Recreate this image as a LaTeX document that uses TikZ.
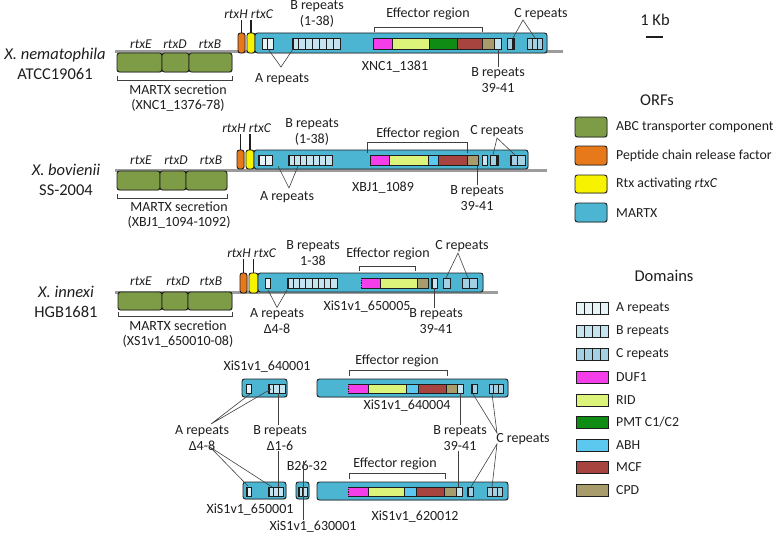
\documentclass[tikz,border=0pt]{standalone}
\usepackage{fontspec}
\setmainfont{Carlito}
\usetikzlibrary{fit,shadows}
\definecolor{abc}{HTML}{7E9B46}
\definecolor{orf}{HTML}{E8791B}
\definecolor{ylw}{HTML}{F7F200}
\definecolor{martx}{HTML}{4CB6D2}
\definecolor{arep}{HTML}{E6F4F8}
\definecolor{brep}{HTML}{C6E4F0}
\definecolor{crep}{HTML}{A4D0E3}
\definecolor{duf}{HTML}{F43EEA}
\definecolor{rid}{HTML}{DCF47A}
\definecolor{pmt}{HTML}{0F8C14}
\definecolor{abh}{HTML}{5CC7EF}
\definecolor{mcf}{HTML}{A8443F}
\definecolor{cpd}{HTML}{A99C6C}
\definecolor{chrom}{HTML}{9C9C9C}
\definecolor{ink}{HTML}{1E1E1E}
\newcommand\mkdom[5]{\draw[dom, fill=#5] (#1,#3) rectangle (#2,#4);}
\newcommand\mkreps[6]{\pgfmathsetmacro\cw{(#2-#1)/#5}\foreach \k in {1,...,#5}{\draw[dom, fill=#6] ({#1+(\k-1)*\cw},#3) rectangle ({#1+\k*\cw},#4);}}
\newcommand\mkdark[3]{\fill[ink] (#1,#2) rectangle ({#1+1.8},#3);}
\begin{document}
\begin{tikzpicture}[x=1pt,y=-1pt,
  gene/.style={draw=ink, line width=0.9pt, rounded corners=2.5pt, inner sep=0pt, outer sep=0pt,
     drop shadow={shadow xshift=0.8pt, shadow yshift=-0.9pt, opacity=0.3}},
  dom/.style={draw=ink, line width=0.75pt},
  chromline/.style={draw=chrom, line width=3pt},
  lbl/.style={font=\fontsize{14}{15.5}\selectfont, text=ink, inner sep=1pt, align=center},
  rl/.style={font=\fontsize{13.5}{15}\selectfont\itshape, text=ink, inner sep=1pt},
  sp/.style={font=\fontsize{16.5}{20}\selectfont, text=ink, align=center, inner sep=1pt},
  lg/.style={font=\fontsize{13.8}{15}\selectfont, text=ink, anchor=west, inner sep=1pt},
  ttl/.style={font=\fontsize{16.5}{18}\selectfont, text=ink, inner sep=1pt},
  conn/.style={draw=ink!85, line width=0.6pt},
  tick/.style={draw=ink, line width=1.2pt},
  brk/.style={draw=ink!85, line width=0.7pt}]
\useasboundingbox (0,0) rectangle (778,535);

% ================= Row 1: X. nematophila =================
\node[sp] (sp1) at (55,64) {\textit{X. nematophila}\\ATCC19061};
\draw[chromline] (115,52) -- (563,52);
\node[gene, fill=abc, fit={(117,53) (162,72)}] (e1) {};
\node[gene, fill=abc, fit={(162,53) (189,72)}] (d1) {};
\node[gene, fill=abc, fit={(189,53) (232,72)}] (b1) {};
\node[rl] (le1) at (141,44) {rtxE};
\node[rl] (ld1) at (175,44) {rtxD};
\node[rl] (lb1) at (210,44) {rtxB};
\draw[brk] (117,76) -- (117,80) -- (232,80) -- (232,76);
\node[lbl] (ms1) at (178,98) {MARTX secretion\\(XNC1\_1376-78)};
\node[gene, fill=orf, fit={(238,33) (245,53)}] (h1) {};
\node[gene, fill=ylw, fit={(247,33) (255,53)}] (c1) {};
\node[gene, fill=martx, fit={(255,33) (547,53)}] (m1) {};
\node[rl] (lh1) at (236,14) {rtxH};
\node[rl] (lc1) at (262,14) {rtxC};
\draw[tick] (h1.north) -- (h1.north |- lh1.south);
\draw[tick] (c1.north) -- (c1.north |- lc1.south);
\mkreps{262}{273}{38}{49}{2}{arep}
\mkreps{292}{340}{38}{49}{7}{brep}\mkdark{292}{38}{49}
\mkdom{373}{392}{38}{49}{duf}
\mkdom{392}{429}{38}{49}{rid}
\mkdom{429}{457}{38}{49}{pmt}
\mkdom{457}{482}{38}{49}{mcf}
\mkdom{482}{494}{38}{49}{cpd}
\mkreps{494}{501}{38}{49}{1}{brep}
\mkreps{507}{514}{38}{49}{1}{crep}\mkdark{512.2}{38}{49}
\mkreps{527}{542}{38}{49}{3}{crep}
\node[lbl] (br1) at (317,14) {B repeats\\(1-38)};
\node[lbl] (ef1) at (428,14) {Effector region};
\draw[brk] (374,32) -- (374,27) -- (482,27) -- (482,32);
\node[lbl] (ar1) at (282,79) {A repeats};
\coordinate (ar1x) at (281,67);
\coordinate (ar1a) at (268,49);
\coordinate (ar1b) at (293,49);
\draw[conn] (ar1a) -- (ar1x) -- (ar1b);
\node[lbl] (id1) at (395,67) {XNC1\_1381};
\node[lbl] (bb1) at (498,80) {B repeats\\39-41};
\coordinate (bb1a) at (498,49);
\draw[conn] (bb1a) -- (bb1.north);
\node[lbl] (cr1) at (541,14) {C repeats};
\coordinate (cr1x) at (523,20);
\coordinate (cr1a) at (513,38);
\coordinate (cr1b) at (535,38);
\draw[conn] (cr1a) -- (cr1x) -- (cr1b);

% scale bar
\node[ttl] (kb) at (655,20) {1 Kb};
\coordinate (kba) at (646,37);
\coordinate (kbb) at (663,37);
\draw[line width=1.6pt, ink] (kba) -- (kbb);

% ================= Row 2: X. bovienii =================
\node[sp] (sp2) at (66,180) {\textit{X. bovienii}\\SS-2004};
\draw[chromline] (115,170) -- (547,170);
\node[gene, fill=abc, fit={(117,171) (160,190)}] (e2) {};
\node[gene, fill=abc, fit={(160,171) (186,190)}] (d2) {};
\node[gene, fill=abc, fit={(186,171) (227,190)}] (b2) {};
\node[rl] (le2) at (141,160) {rtxE};
\node[rl] (ld2) at (176,160) {rtxD};
\node[rl] (lb2) at (211,160) {rtxB};
\draw[brk] (117,194) -- (117,198) -- (227,198) -- (227,194);
\node[lbl] (ms2) at (179,215) {MARTX secretion\\(XBJ1\_1094-1092)};
\node[gene, fill=orf, fit={(237,150) (244,169)}] (h2) {};
\node[gene, fill=ylw, fit={(246,150) (254,169)}] (c2) {};
\node[gene, fill=martx, fit={(254,150) (528,169)}] (m2) {};
\node[rl] (lh2) at (234,128) {rtxH};
\node[rl] (lc2) at (260,128) {rtxC};
\draw[tick] (h2.north) -- (h2.north |- lh2.south);
\draw[tick] (c2.north) -- (c2.north |- lc2.south);
\mkreps{258}{272}{155}{165}{2}{arep}\mkdark{258}{155}{165}
\mkreps{288}{332}{155}{165}{7}{brep}\mkdark{288}{155}{165}
\mkdom{370}{389}{155}{165}{duf}
\mkdom{389}{428}{155}{165}{rid}
\mkdom{428}{438}{155}{165}{abh}
\mkdom{438}{467}{155}{165}{mcf}
\mkdom{467}{478}{155}{165}{cpd}
\mkreps{482}{487}{155}{165}{1}{brep}
\mkreps{490}{498}{155}{165}{1}{crep}\mkdark{496.2}{155}{165}
\mkreps{510}{525}{155}{165}{2}{crep}\mkdark{510}{155}{165}
\node[lbl] (br2) at (312,132) {B repeats\\(1-38)};
\node[lbl] (ef2) at (418,134) {Effector region};
\draw[brk] (367,153) -- (367,142) -- (467,142) -- (467,153);
\node[lbl] (ar2) at (287,197) {A repeats};
\coordinate (ar2x) at (289,188);
\coordinate (ar2a) at (278,166);
\coordinate (ar2b) at (298,166);
\draw[conn] (ar2a) -- (ar2x) -- (ar2b);
\node[lbl] (id2) at (383,188) {XBJ1\_1089};
\node[lbl] (bb2) at (477,198) {B repeats\\39-41};
\coordinate (bb2a) at (477,166);
\draw[conn] (bb2a) -- (bb2.north);
\node[lbl] (cr2) at (497,131) {C repeats};
\coordinate (cr2x) at (497,138);
\coordinate (cr2a) at (493,155);
\coordinate (cr2b) at (515,155);
\draw[conn] (cr2a) -- (cr2x) -- (cr2b);

% ================= Row 3: X. innexi =================
\node[sp] (sp3) at (66,302) {\textit{X. innexi}\\HGB1681};
\draw[chromline] (115,292) -- (498,292);
\node[gene, fill=abc, fit={(118,292) (162,310)}] (e3) {};
\node[gene, fill=abc, fit={(162,292) (188,310)}] (d3) {};
\node[gene, fill=abc, fit={(188,292) (232,310)}] (b3) {};
\node[rl] (le3) at (141,281) {rtxE};
\node[rl] (ld3) at (178,281) {rtxD};
\node[rl] (lb3) at (211,281) {rtxB};
\draw[brk] (118,312) -- (118,316) -- (232,316) -- (232,312);
\node[lbl] (ms3) at (178,334) {MARTX secretion\\(XS1v1\_650010-08)};
\node[gene, fill=orf, fit={(240,273) (247,293)}] (h3) {};
\node[gene, fill=ylw, fit={(249,273) (258,293)}] (c3) {};
\node[gene, fill=martx, fit={(258,273) (483,292)}] (m3) {};
\node[rl] (lh3) at (239,253) {rtxH};
\node[rl] (lc3) at (265,253) {rtxC};
\draw[tick] (h3.north) -- (h3.north |- lh3.south);
\draw[tick] (c3.north) -- (c3.north |- lc3.south);
\mkreps{265}{270}{278}{288}{1}{arep}
\mkreps{287}{337}{278}{288}{8}{brep}\mkdark{287}{278}{288}
\fill[duf] (361,278) rectangle (380,288);
\draw[dom] (361,278) -- (380,278) -- (380,288) -- (361,288);
\draw[ink, line width=0.75pt, densely dotted] (361,278) -- (361,288);
\mkdom{380}{417}{278}{288}{rid}
\mkdom{417}{428}{278}{288}{cpd}
\mkreps{431}{437}{278}{288}{1}{brep}\mkdark{431}{278}{288}
\mkreps{443}{450}{278}{288}{1}{crep}
\mkreps{462}{477}{278}{288}{2}{crep}
\node[lbl] (br3) at (313,253) {B repeats\\1-38};
\node[lbl] (ef3) at (388,254) {Effector region};
\draw[brk] (359,271) -- (359,266) -- (415,266) -- (415,271);
\node[lbl] (ar3) at (277,321) {A repeats\\Δ4-8};
\coordinate (ar3a) at (268,290);
\coordinate (ar3b) at (287,290);
\draw[conn] (ar3a) -- (ar3.north) -- (ar3b);
\node[lbl] (id3) at (367,307) {XiS1v1\_650005};
\node[lbl] (bb3) at (436,321) {B repeats\\39-41};
\coordinate (bb3a) at (434,288);
\draw[conn] (bb3a) -- (bb3a |- bb3.north);
\node[lbl] (cr3) at (462,246) {C repeats};
\coordinate (cr3x) at (458,253);
\coordinate (cr3a) at (446,278);
\coordinate (cr3b) at (468,278);
\draw[conn] (cr3a) -- (cr3x) -- (cr3b);

% ================= Bottom: fragments =================
\node[gene, fill=martx, fit={(242,379) (287,397)}] (g640001) {};
\mkreps{246}{251}{384}{393}{1}{arep}
\mkreps{268}{285}{384}{393}{3}{brep}\mkdark{268}{384}{393}
\node[lbl] (n640001) at (267,367) {XiS1v1\_640001};

\node[gene, fill=martx, fit={(317,379) (508,397)}] (g640004) {};
\fill[duf] (348,384) rectangle (368,393);
\draw[dom] (348,384) -- (368,384) -- (368,393) -- (348,393);
\draw[ink, line width=0.75pt, densely dotted] (348,384) -- (348,393);
\mkdom{368}{406}{384}{393}{rid}
\mkdom{406}{418}{384}{393}{abh}
\mkdom{418}{446}{384}{393}{mcf}
\mkdom{446}{457}{384}{393}{cpd}
\mkreps{457}{463}{384}{393}{1}{brep}
\mkreps{471}{477}{384}{393}{1}{crep}\mkdark{471}{384}{393}
\mkreps{489}{503}{384}{393}{3}{crep}
\node[lbl] (n640004) at (407,406) {XiS1v1\_640004};
\node[lbl] (ef4) at (397,361) {Effector region};
\draw[brk] (349,376) -- (349,370) -- (447,370) -- (447,376);

\node[gene, fill=martx, fit={(243,482) (286,499)}] (g650001) {};
\mkreps{246}{251}{487}{496}{1}{arep}\mkdark{246}{487}{496}
\mkreps{268}{283}{487}{496}{3}{brep}\mkdark{268}{487}{496}
\node[lbl] (n650001) at (250,510) {XiS1v1\_650001};

\node[gene, fill=martx, fit={(296,482) (309,499)}] (g630001) {};
\mkreps{298}{307}{487}{496}{2}{brep}\mkdark{298}{487}{496}
\node[lbl] (n630001) at (313,527) {XiS1v1\_630001};
\node[lbl] (b2632) at (307,466) {B26-32};
\coordinate (b26top) at (303,461);
\draw[conn] (b26top) -- (b26top |- n630001.north);

\node[gene, fill=martx, fit={(317,482) (508,500)}] (g620012) {};
\fill[duf] (348,487) rectangle (368,496);
\draw[dom] (348,487) -- (368,487) -- (368,496) -- (348,496);
\draw[ink, line width=0.75pt, densely dotted] (348,487) -- (348,496);
\mkdom{368}{404}{487}{496}{rid}
\mkdom{404}{416}{487}{496}{abh}
\mkdom{416}{444}{487}{496}{mcf}
\mkdom{444}{456}{487}{496}{cpd}
\mkreps{456}{462}{487}{496}{1}{brep}
\mkreps{467}{473}{487}{496}{1}{crep}\mkdark{467}{487}{496}
\mkreps{487}{502}{487}{496}{3}{crep}
\node[lbl] (n620012) at (415,517) {XiS1v1\_620012};
\node[lbl] (ef5) at (395,464) {Effector region};
\draw[brk] (349,479) -- (349,473) -- (445,473) -- (445,479);

% labels with connectors
\node[lbl] (arb) at (202,438) {A repeats\\Δ4-8};
\coordinate (arbu) at (211,424);
\coordinate (arbl) at (210,447);
\coordinate (arb1) at (250,394);
\coordinate (arb2) at (271,389);
\coordinate (arb3) at (248,486);
\coordinate (arb4) at (272,487);
\draw[conn] (arb1) -- (arbu) -- (arb2);
\draw[conn] (arb3) -- (arbl) -- (arb4);

\node[lbl] (brb) at (280,438) {B repeats\\Δ1-6};
\coordinate (brbu) at (278,393);
\coordinate (brbl) at (278,487);
\draw[conn] (brbu) -- (brbu |- brb.north);
\draw[conn] (brbl) -- (brbl |- brb.south);

\node[lbl] (bbb) at (460,438) {B repeats\\39-41};
\coordinate (bbbu) at (460,393);
\coordinate (bbbl) at (458,487);
\draw[conn] (bbbu) -- (bbbu |- bbb.north);
\draw[conn] (bbbl) -- (bbbl |- bbb.south);

\node[lbl] (crb) at (523,439) {C repeats};
\coordinate (crbu) at (497,433);
\coordinate (crbl) at (497,444);
\coordinate (crb1) at (473,394);
\coordinate (crb2) at (492,394);
\coordinate (crb3) at (471,487);
\coordinate (crb4) at (492,487);
\draw[conn] (crb1) -- (crbu) -- (crb2);
\draw[conn] (crb3) -- (crbl) -- (crb4);

% ================= Legend: ORFs =================
\node[ttl] (orfs) at (657,100) {ORFs};
\node[gene, fill=abc, fit={(575,117) (607,137)}] (lg1) {};
\node[gene, fill=orf, fit={(575,146) (607,165)}] (lg2) {};
\node[gene, fill=ylw, fit={(575,175) (607,193)}] (lg3) {};
\node[gene, fill=martx, fit={(575,203) (607,222)}] (lg4) {};
\node[lg] (lt1) at (615,127) {ABC transporter component};
\node[lg] (lt2) at (615,156) {Peptide chain release factor};
\node[lg] (lt3) at (615,184) {Rtx activating \textit{rtxC}};
\node[lg] (lt4) at (615,213) {MARTX};

% ================= Legend: Domains =================
\node[ttl] (doms) at (664,276) {Domains};
\mkreps{576}{608}{302}{314}{4}{arep}
\mkreps{576}{608}{325}{337}{4}{brep}
\mkreps{576}{608}{348}{360}{4}{crep}
\mkdom{576}{608}{371}{383}{duf}
\mkdom{576}{608}{394}{406}{rid}
\mkdom{576}{608}{416}{428}{pmt}
\mkdom{576}{608}{439}{451}{abh}
\mkdom{576}{608}{461}{473}{mcf}
\mkdom{576}{608}{484}{496}{cpd}
\node[lg] (dt1) at (615,308) {A repeats};
\node[lg] (dt2) at (615,331) {B repeats};
\node[lg] (dt3) at (615,354) {C repeats};
\node[lg] (dt4) at (615,377) {DUF1};
\node[lg] (dt5) at (615,400) {RID};
\node[lg] (dt6) at (615,422) {PMT C1/C2};
\node[lg] (dt7) at (615,445) {ABH};
\node[lg] (dt8) at (615,467) {MCF};
\node[lg] (dt9) at (615,490) {CPD};
\end{tikzpicture}
\end{document}
